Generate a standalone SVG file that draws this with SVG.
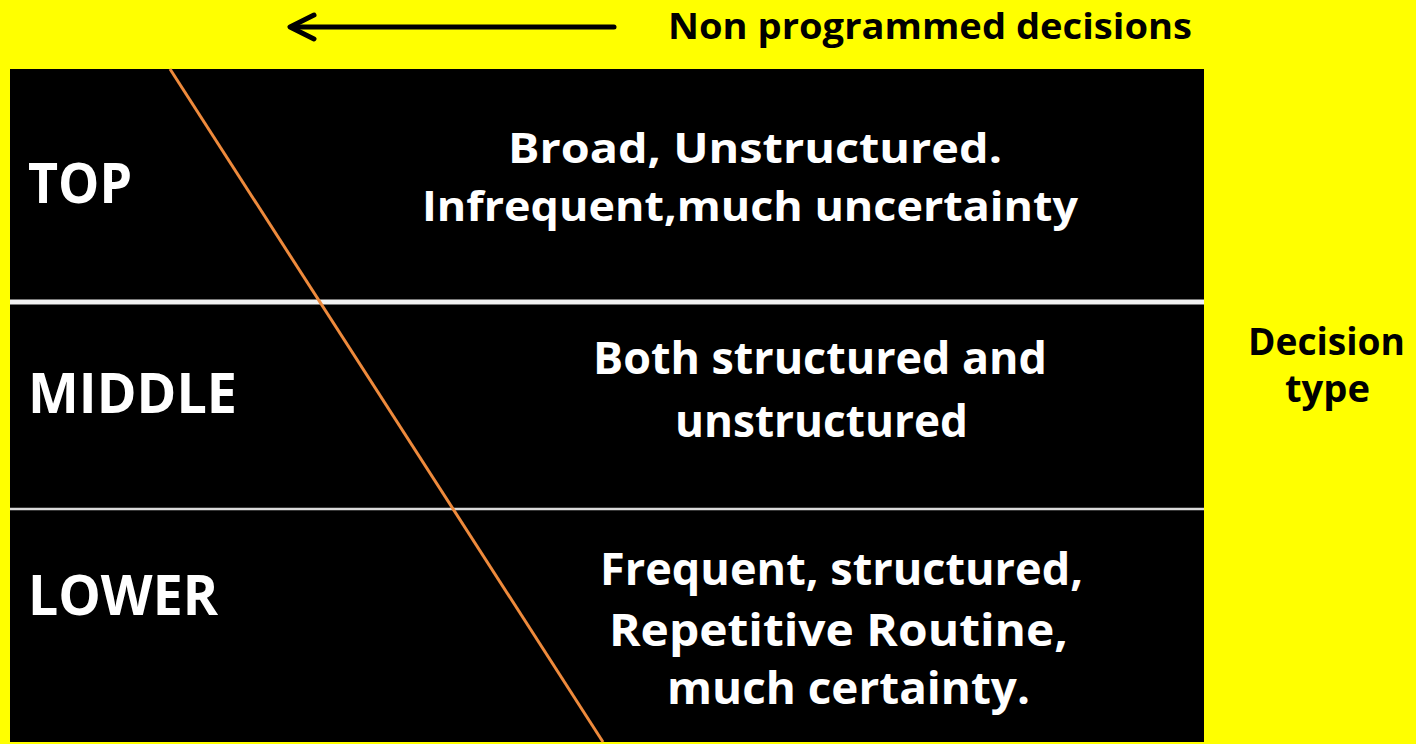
<svg xmlns="http://www.w3.org/2000/svg" width="1416" height="744" viewBox="0 0 1416 744">
<defs>
<style>
.t{font-family:"Open Sans","Liberation Sans",sans-serif;font-weight:bold;}
.w{fill:#ffffff;}
.k{fill:#000000;}
.lbl{font-size:55px;}
.body{font-size:45px;}
.body2{font-size:41px;}
.side{font-size:38px;}
</style>
</defs>
<rect x="0" y="0" width="1416" height="744" fill="#ffff00"/>
<g id="table">
<rect x="10" y="69" width="1194" height="673" fill="#000000"/>
<line x1="10" y1="302" x2="1204" y2="302" stroke="#f2f2f2" stroke-width="5"/>
<line x1="10" y1="509" x2="1204" y2="509" stroke="#d9d9d9" stroke-width="2.5"/>
</g>
<g id="connectors">
<line x1="170" y1="69" x2="603" y2="742" stroke="#ee8a3c" stroke-width="3"/>
<line x1="614" y1="27" x2="292" y2="27" stroke="#000000" stroke-width="5" stroke-linecap="round"/>
<polyline points="314,15 290,27 314,39" fill="none" stroke="#000000" stroke-width="5" stroke-linecap="round" stroke-linejoin="round"/>
</g>
<g id="header">
<text class="t k" x="668" y="39" font-size="36" textLength="524" lengthAdjust="spacingAndGlyphs">Non programmed decisions</text>
</g>
<g id="top">
<text class="t w lbl" x="28" y="203" textLength="104" lengthAdjust="spacingAndGlyphs">TOP</text>
<text class="t w body2" x="508" y="163" textLength="494" lengthAdjust="spacingAndGlyphs">Broad, Unstructured.</text>
<text class="t w body2" x="422" y="221" textLength="656" lengthAdjust="spacingAndGlyphs">Infrequent,much uncertainty</text>
</g>
<g id="middle">
<text class="t w lbl" x="28" y="413" textLength="209" lengthAdjust="spacingAndGlyphs">MIDDLE</text>
<text class="t w body" x="593" y="374" textLength="454" lengthAdjust="spacingAndGlyphs">Both structured and</text>
<text class="t w body" x="675" y="437" textLength="293" lengthAdjust="spacingAndGlyphs">unstructured</text>
</g>
<g id="lower">
<text class="t w lbl" x="28" y="615" textLength="190" lengthAdjust="spacingAndGlyphs">LOWER</text>
<text class="t w body" x="600" y="585" textLength="483" lengthAdjust="spacingAndGlyphs">Frequent, structured,</text>
<text class="t w body" x="609" y="646" textLength="459" lengthAdjust="spacingAndGlyphs">Repetitive Routine,</text>
<text class="t w body" x="667" y="704" textLength="363" lengthAdjust="spacingAndGlyphs">much certainty.</text>
</g>
<g id="decision-type">
<text class="t k side" x="1248" y="355" textLength="157" lengthAdjust="spacingAndGlyphs">Decision</text>
<text class="t k side" x="1285" y="402" textLength="85" lengthAdjust="spacingAndGlyphs">type</text>
</g>
</svg>
